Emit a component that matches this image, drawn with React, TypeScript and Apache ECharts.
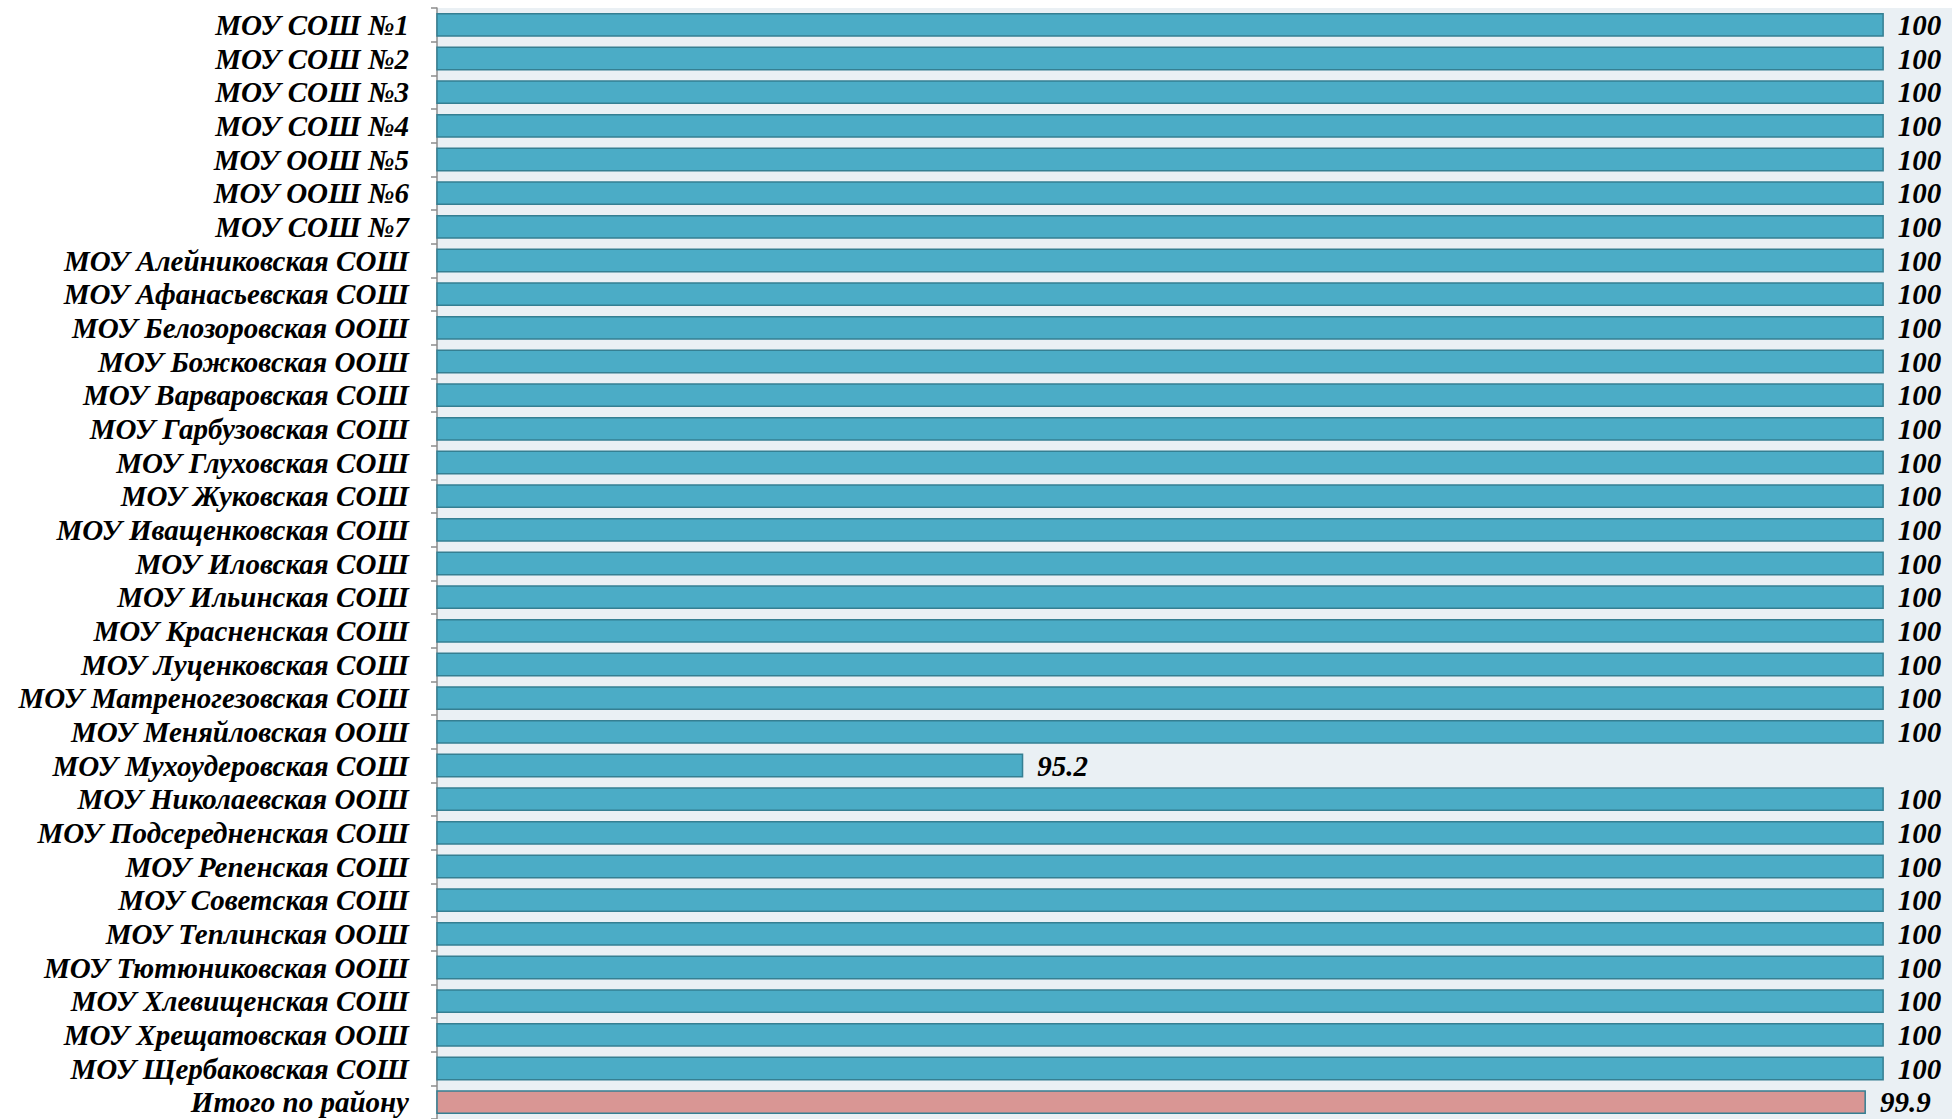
import React, { useEffect, useRef } from "react";
import * as echarts from "echarts";

const categories: string[] = [
  "МОУ СОШ №1",
  "МОУ СОШ №2",
  "МОУ СОШ №3",
  "МОУ СОШ №4",
  "МОУ ООШ №5",
  "МОУ ООШ №6",
  "МОУ СОШ №7",
  "МОУ Алейниковская СОШ",
  "МОУ Афанасьевская СОШ",
  "МОУ Белозоровская ООШ",
  "МОУ Божковская ООШ",
  "МОУ Варваровская СОШ",
  "МОУ Гарбузовская СОШ",
  "МОУ Глуховская СОШ",
  "МОУ Жуковская СОШ",
  "МОУ Иващенковская СОШ",
  "МОУ Иловская СОШ",
  "МОУ Ильинская СОШ",
  "МОУ Красненская СОШ",
  "МОУ Луценковская СОШ",
  "МОУ Матреногезовская СОШ",
  "МОУ Меняйловская ООШ",
  "МОУ Мухоудеровская СОШ",
  "МОУ Николаевская ООШ",
  "МОУ Подсередненская СОШ",
  "МОУ Репенская СОШ",
  "МОУ Советская СОШ",
  "МОУ Теплинская ООШ",
  "МОУ Тютюниковская ООШ",
  "МОУ Хлевищенская СОШ",
  "МОУ Хрещатовская ООШ",
  "МОУ Щербаковская СОШ",
  "Итого по району",
];

const values: number[] = [
  100, 100, 100, 100, 100, 100, 100, 100, 100, 100, 100, 100, 100, 100, 100, 100,
  100, 100, 100, 100, 100, 100, 95.2, 100, 100, 100, 100, 100, 100, 100, 100, 100,
  99.9,
];

const totalLabel = "Итого по району";

const SCHOOL_COLOR = "#4BACC6";
const TOTAL_COLOR = "#D99694";
const BORDER_COLOR = "#357F92";
const FONT = '"Liberation Serif", "Times New Roman", serif';

export default function App() {
  const ref = useRef<HTMLDivElement>(null);

  useEffect(() => {
    if (!ref.current) return;
    const chart = echarts.init(ref.current, undefined, { renderer: "svg" });
    chart.setOption({
      animation: false,
      backgroundColor: "#FFFFFF",
      grid: {
        left: 437,
        right: 0,
        top: 8,
        bottom: -1,
        show: true,
        backgroundColor: "#EAF0F4",
        borderWidth: 0,
      },
      xAxis: {
        type: "value",
        min: 91.93,
        max: 100.38,
        show: false,
        splitLine: { show: false },
      },
      yAxis: {
        type: "category",
        inverse: true,
        data: categories,
        axisLine: { show: true, lineStyle: { color: "#8C8C8C", width: 1.5 } },
        axisTick: {
          show: true,
          alignWithLabel: false,
          interval: 0,
          length: 6,
          lineStyle: { color: "#8C8C8C", width: 1.5 },
        },
        axisLabel: {
          interval: 0,
          margin: 28,
          color: "#000",
          fontFamily: FONT,
          fontStyle: "italic",
          fontWeight: "bold",
          fontSize: 29,
        },
      },
      series: [
        {
          type: "bar",
          barCategoryGap: "29%",
          data: values.map((v, i) => ({
            value: v,
            itemStyle: {
              color: categories[i] === totalLabel ? TOTAL_COLOR : SCHOOL_COLOR,
              borderColor: BORDER_COLOR,
              borderWidth: 1.5,
            },
          })),
          label: {
            show: true,
            position: "right",
            distance: 14,
            color: "#000",
            fontFamily: FONT,
            fontStyle: "italic",
            fontWeight: "bold",
            fontSize: 29,
            formatter: (p: any) =>
              Number.isInteger(p.value) ? String(p.value) : p.value.toFixed(1),
          },
        },
      ],
    });
    return () => chart.dispose();
  }, []);

  return (
    <div
      ref={ref}
      style={{ position: "fixed", left: 0, top: 0, width: 1952, height: 1119 }}
    />
  );
}
